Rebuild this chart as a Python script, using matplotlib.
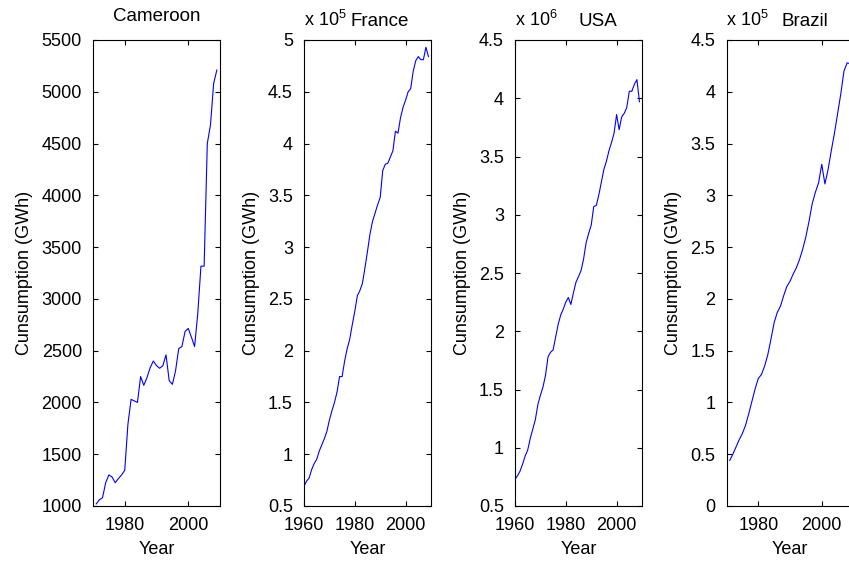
import matplotlib
matplotlib.use("Agg")
import matplotlib.pyplot as plt
from matplotlib.ticker import FormatStrFormatter
import numpy as np

plt.rcParams['font.family'] = ['Liberation Sans', 'DejaVu Sans']
plt.rcParams['mathtext.fontset'] = 'custom'
plt.rcParams['mathtext.rm'] = 'Liberation Sans'
plt.rcParams['mathtext.it'] = 'Liberation Sans'
plt.rcParams['font.size'] = 13

# Electricity consumption (GWh)
cameroon_years = list(range(1971, 2010))
cameroon = [1020, 1060, 1080, 1225, 1300, 1280, 1225, 1265, 1300, 1345,
            1790, 2030, 2015, 2000, 2250, 2165, 2240, 2335, 2400, 2355,
            2330, 2355, 2460, 2210, 2175, 2305, 2520, 2540, 2685, 2715,
            2630, 2540, 2860, 3316, 3316, 4500, 4680, 5080, 5210]

# France and USA from 1960, values in units of 10^exponent
france_years = list(range(1960, 2010))
france_exp = 5
france = [0.69, 0.74, 0.77, 0.85, 0.91, 0.95, 1.03, 1.09, 1.15, 1.22,
          1.33, 1.42, 1.50, 1.60, 1.75, 1.75, 1.90, 2.02, 2.11, 2.25,
          2.38, 2.53, 2.58, 2.65, 2.80, 2.96, 3.13, 3.25, 3.33, 3.41,
          3.48, 3.74, 3.80, 3.81, 3.87, 3.93, 4.12, 4.10, 4.25, 4.35,
          4.42, 4.50, 4.53, 4.70, 4.80, 4.84, 4.81, 4.81, 4.93, 4.84]

usa_years = list(range(1960, 2010))
usa_exp = 6
usa = [0.73, 0.76, 0.80, 0.86, 0.93, 0.98, 1.08, 1.16, 1.24, 1.37,
       1.45, 1.52, 1.62, 1.78, 1.82, 1.84, 1.95, 2.06, 2.14, 2.19,
       2.25, 2.29, 2.23, 2.33, 2.42, 2.47, 2.52, 2.62, 2.76, 2.84,
       2.91, 3.07, 3.08, 3.17, 3.28, 3.39, 3.46, 3.55, 3.62, 3.70,
       3.86, 3.73, 3.84, 3.87, 3.92, 4.06, 4.06, 4.12, 4.16, 3.97]

brazil_years = list(range(1971, 2010))
brazil_exp = 5
brazil = [0.44, 0.50, 0.57, 0.64, 0.70, 0.78, 0.89, 1.01, 1.13, 1.23,
          1.27, 1.35, 1.46, 1.61, 1.77, 1.87, 1.93, 2.03, 2.12, 2.17,
          2.24, 2.30, 2.38, 2.48, 2.60, 2.75, 2.92, 3.03, 3.12, 3.30,
          3.11, 3.25, 3.43, 3.60, 3.79, 3.98, 4.20, 4.28, 4.27]

panels = [
    # name, years, values, exponent, xlim, xticks, ylim, ystep, title x (axes frac)
    ("Cameroon", cameroon_years, cameroon, None, (1970, 2010), [1980, 2000], (1000, 5500), 500, None),
    ("France", france_years, france, france_exp, (1960, 2010), [1960, 1980, 2000], (0.5, 5), 0.5, 0.37),
    ("USA", usa_years, usa, usa_exp, (1960, 2010), [1960, 1980, 2000], (0.5, 4.5), 0.5, 0.5),
    ("Brazil", brazil_years, brazil, brazil_exp, (1970, 2010), [1980, 2000], (0, 4.5), 0.5, 0.43),
]

W, H = 849, 562
fig = plt.figure(figsize=(W / 100, H / 100), dpi=100)

lefts = [93, 304, 515, 726.5]
ax_w = 127
ax_bottom = 506
ax_top = 40

for (name, years, vals, exp, xlim, xticks, ylim, ystep, tx), left in zip(panels, lefts):
    ax = fig.add_axes([left / W, (H - ax_bottom) / H, ax_w / W, (ax_bottom - ax_top) / H])
    ax.plot(years, vals, color='blue', linewidth=0.8)
    ax.set_xlim(*xlim)
    ax.set_ylim(*ylim)
    ax.set_xticks(xticks)
    ax.set_yticks(np.arange(ylim[0], ylim[1] + ystep / 2, ystep))
    ax.yaxis.set_major_formatter(FormatStrFormatter('%g'))
    ax.tick_params(direction='in', length=3.3, width=0.8, top=True, right=True,
                   labelsize=13)
    ax.tick_params(axis='x', pad=8)
    ax.tick_params(axis='y', pad=8)
    for sp in ax.spines.values():
        sp.set_linewidth(0.8)
    ax.set_xlabel("Year", fontsize=13, labelpad=5)
    ax.set_ylabel("Cunsumption (GWh)", fontsize=13, labelpad=6)
    if exp is None:
        ax.text(0.5, 1.04, name, transform=ax.transAxes, ha='center', va='baseline', fontsize=13.5)
    else:
        ax.text(0.0, 1.03, r'x 10$^{%d}$' % exp, transform=ax.transAxes, ha='left',
                va='baseline', fontsize=13)
        ax.text(tx, 1.03, name, transform=ax.transAxes, ha='left', va='baseline', fontsize=13.5)

fig.savefig("out.png", dpi=100)
